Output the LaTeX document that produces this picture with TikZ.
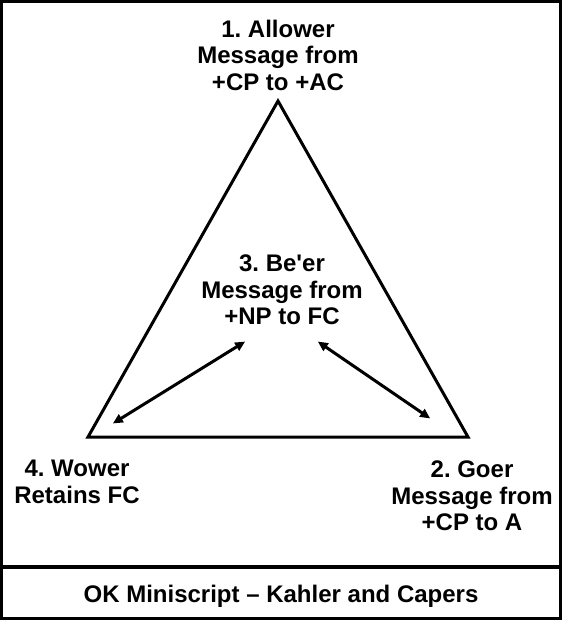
\documentclass[tikz,border=0pt]{standalone}
\usepackage{fontspec}
\setmainfont{Liberation Sans}
\usetikzlibrary{arrows.meta}
\frenchspacing
\tikzset{
  rolelabel/.style={align=center, inner sep=0pt, font=\fontsize{24}{26.5}\selectfont\bfseries},
  rolearrow/.style={line width=3pt, {Triangle[length=10pt,width=9pt]}-{Triangle[length=10pt,width=9pt]}, shorten <=1pt, shorten >=1pt}
}
\begin{document}
\begin{tikzpicture}[x=1pt, y=-1pt]
    \useasboundingbox (0, 0) rectangle (562, 620);
    \draw[line width=3pt] (1.5, 1.5) rectangle (560.5, 618.5);
    \draw[line width=3.5pt] (0, 567) -- (562, 567);

    % triangle corners
    \coordinate (allower) at (278, 101);
    \coordinate (goer) at (468, 437);
    \coordinate (wower) at (88, 437);
    \draw[line width=3pt, line join=miter] (allower) -- (goer) -- (wower) -- cycle;

    \node[rolelabel] (allowertext) at (278, 55) {1. Allower\\Message from\\+CP to +AC};
    \node[rolelabel] (beertext) at (282, 290) {3. Be\textquotesingle er\\Message from\\+NP to FC};
    \node[rolelabel] (wowertext) at (77, 482) {4. Wower\\Retains FC};
    \node[rolelabel] (goertext) at (472, 496) {2. Goer\\Message from\\+CP to A};

    \coordinate (beerleft) at (246, 341);
    \coordinate (beerright) at (317, 341);
    \coordinate (wowerend) at (112, 424);
    \coordinate (goerend) at (431, 419);
    \draw[rolearrow] (wowerend) -- (beerleft);
    \draw[rolearrow] (beerright) -- (goerend);

    \node[rolelabel, anchor=base] (caption) at (281, 602) {OK Miniscript -- Kahler and Capers};
\end{tikzpicture}
\end{document}
